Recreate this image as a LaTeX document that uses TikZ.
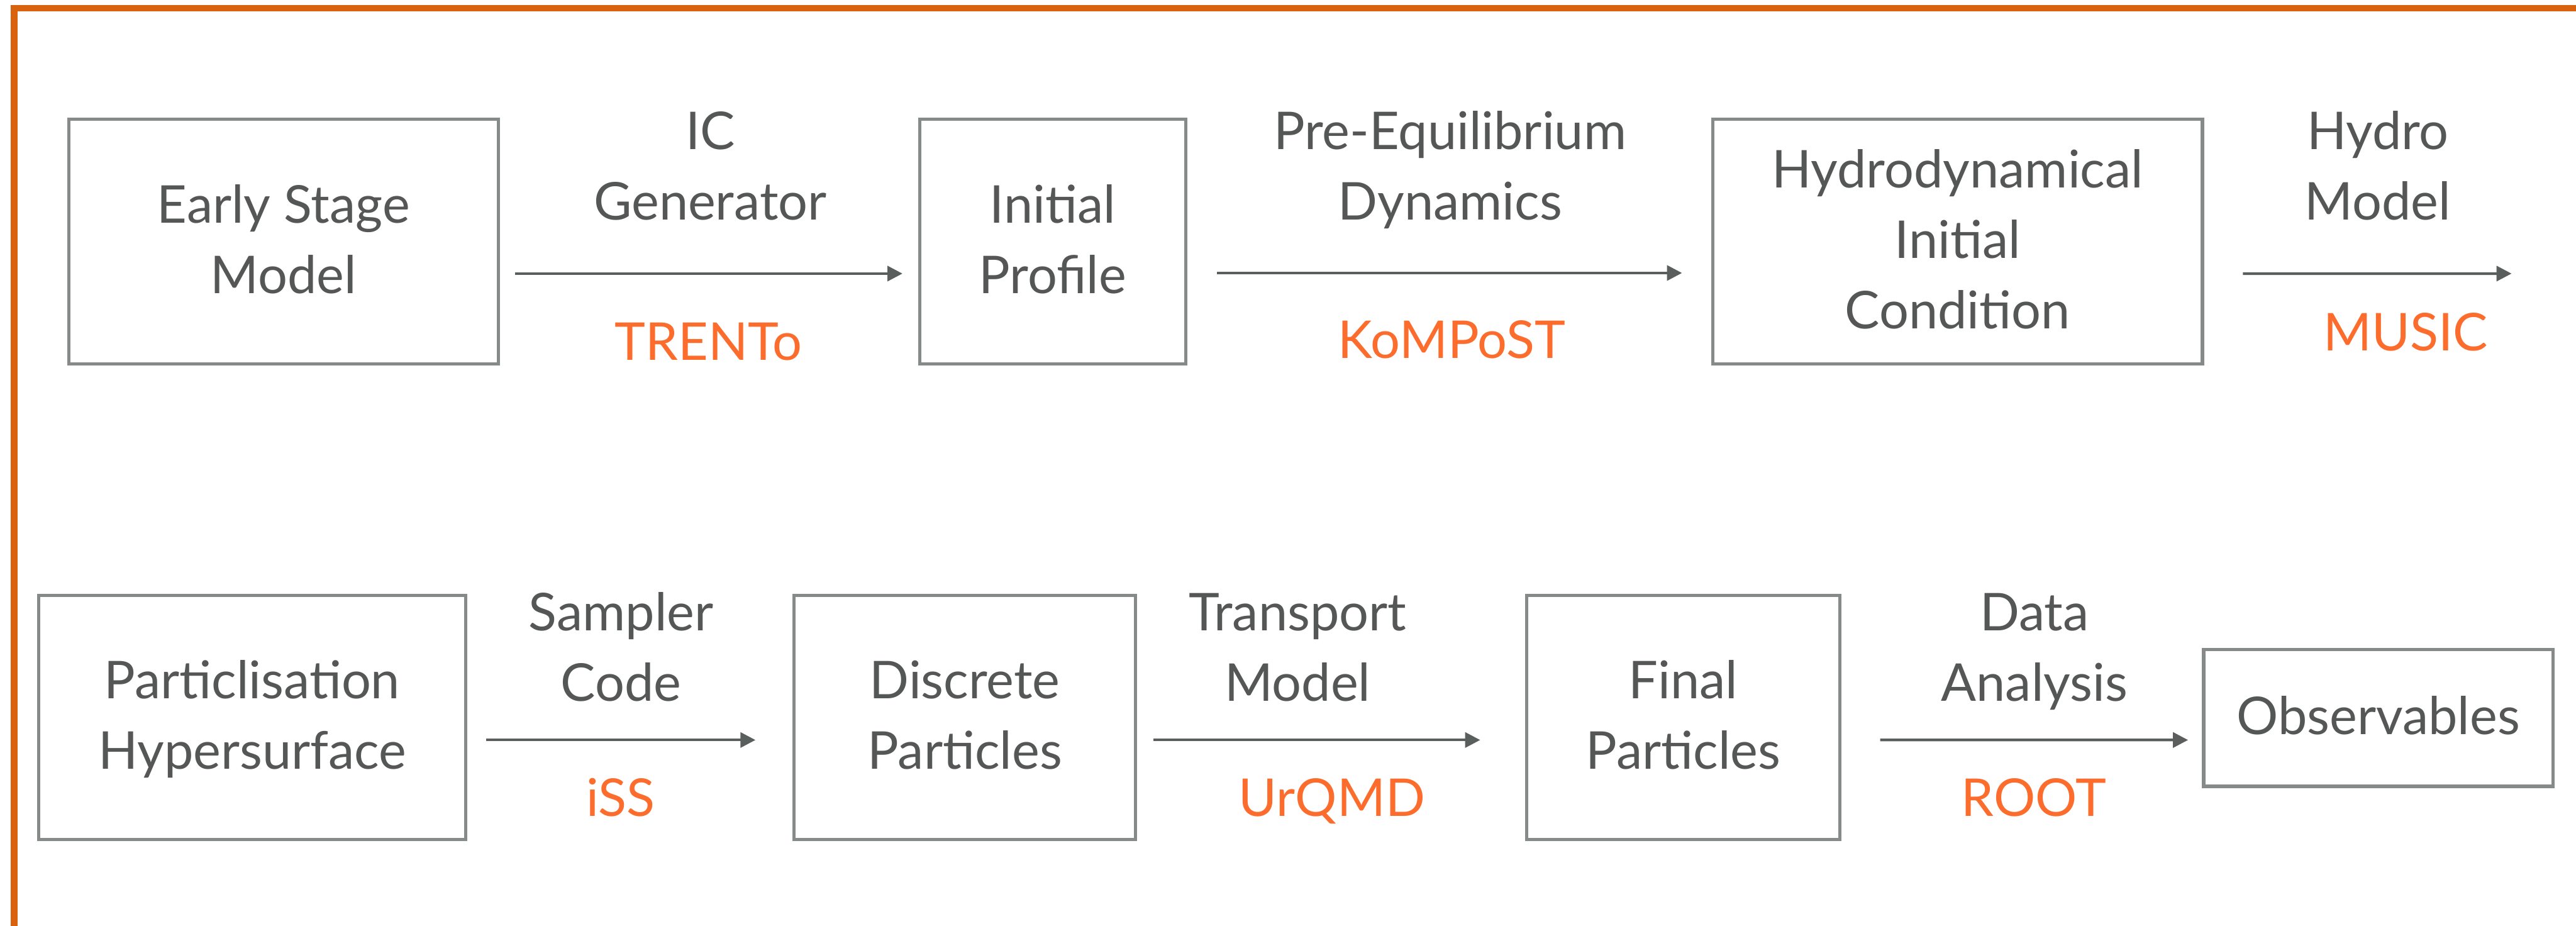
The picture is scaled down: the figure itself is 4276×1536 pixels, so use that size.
\documentclass[tikz,border=0pt]{standalone}
\usepackage{fontspec}
\setmainfont{Lato}
\usetikzlibrary{arrows.meta,calc}
\definecolor{frameorange}{RGB}{217,98,14}
\definecolor{codeorange}{RGB}{252,108,44}
\definecolor{txtgray}{RGB}{85,87,86}
\definecolor{boxgray}{RGB}{134,139,137}
\definecolor{arrgray}{RGB}{90,94,92}
\begin{document}
\begin{tikzpicture}[x=0.1mm,y=-0.1mm,
  lbl/.style={font=\fontsize{24.6}{33.3}\selectfont, text=txtgray, inner sep=0pt, align=center, text depth=0pt},
  code/.style={font=\fontsize{24.6}{33.3}\selectfont, text=codeorange, inner sep=0pt},
  stage/.style={draw=boxgray, line width=0.55mm, rectangle, outer sep=0pt, inner sep=0pt,
    font=\fontsize{24.6}{33.3}\selectfont, text=txtgray, align=center, text depth=0.7mm},
  oneline/.style={text height=6.2mm},
  twoline/.style={text height=17.9mm},
  threeline/.style={text height=29.6mm},
  arr/.style={draw=arrgray, line width=0.45mm, -{Triangle[length=2.5mm,width=2.5mm]}}
]
\path[use as bounding box] (0,0) rectangle (4276,1536);
\clip (0,0) rectangle (4276,1536);
\fill[white] (0,0) rectangle (4276,1536);
\draw[frameorange, line width=1.05mm, line join=miter] (23.5,1700) -- (23.5,13.5) -- (4500,13.5);

% row 1 boxes
\node[stage, twoline, minimum width=71.3mm, minimum height=40.6mm] (b1) at (470.5,401) {Early Stage\\Model};
\node[stage, twoline, minimum width=44.1mm, minimum height=40.6mm] (b2) at (1747.5,401) {Initial\\Profile};
\node[stage, threeline, minimum width=81.3mm, minimum height=40.6mm] (b3) at (3249.5,401) {Hydrodynamical\\Initial\\Condition};
% row 2 boxes
\node[stage, twoline, minimum width=70.9mm, minimum height=40.5mm] (b4) at (418.5,1190.5) {Particlisation\\Hypersurface};
\node[stage, twoline, minimum width=56.7mm, minimum height=40.5mm] (b5) at (1601.5,1190.5) {Discrete\\Particles};
\node[stage, twoline, minimum width=52.0mm, minimum height=40.5mm] (b6) at (2794,1190.5) {Final\\Particles};
\node[stage, oneline, minimum width=58.0mm, minimum height=22.7mm] (b7) at (3948,1191.5) {Observables};

\coordinate (c3end) at (4169,454);

% arrows
\draw[arr] ([xshift=2.8mm,yshift=-5.3mm]b1.east) -- ([xshift=-2.9mm,yshift=-5.3mm]b2.west);
\draw[arr] ([xshift=5.2mm,yshift=-5.2mm]b2.east) -- ([xshift=-5.1mm,yshift=-5.2mm]b3.west);
\draw[arr] ([xshift=6.7mm,yshift=-5.3mm]b3.east) -- (c3end);
\draw[arr] ([xshift=3.4mm,yshift=-3.75mm]b4.east) -- ([xshift=-6.4mm,yshift=-3.75mm]b5.west);
\draw[arr] ([xshift=3.0mm,yshift=-3.75mm]b5.east) -- ([xshift=-7.7mm,yshift=-3.75mm]b6.west);
\draw[arr] ([xshift=6.7mm,yshift=-3.75mm]b6.east) -- ([xshift=-2.6mm,yshift=-3.65mm]b7.west);

% labels row 1
\node[lbl, anchor=south] (t1) at (1179,366) {IC\\Generator};
\node[code, anchor=base] (s1) at (1176,598) {TRENTo};
\node[lbl, anchor=south] (t2) at (2407,366) {Pre-Equilibrium\\Dynamics};
\node[code, anchor=base] (s2) at (2410,595) {KoMPoST};
\node[lbl, anchor=south] (t3) at (3947,366) {Hydro\\Model};
\node[code, anchor=base] (s3) at (3993,582) {MUSIC};
% labels row 2
\node[lbl, anchor=south] (t4) at (1031,1164) {Sampler\\Code};
\node[code, anchor=base] (s4) at (1030,1355) {iSS};
\node[lbl, anchor=south] (t5) at (2154,1164) {Transport\\Model};
\node[code, anchor=base] (s5) at (2211,1355) {UrQMD};
\node[lbl, anchor=south] (t6) at (3377,1164) {Data\\Analysis};
\node[code, anchor=base] (s6) at (3376,1355) {ROOT};
\end{tikzpicture}
\end{document}
